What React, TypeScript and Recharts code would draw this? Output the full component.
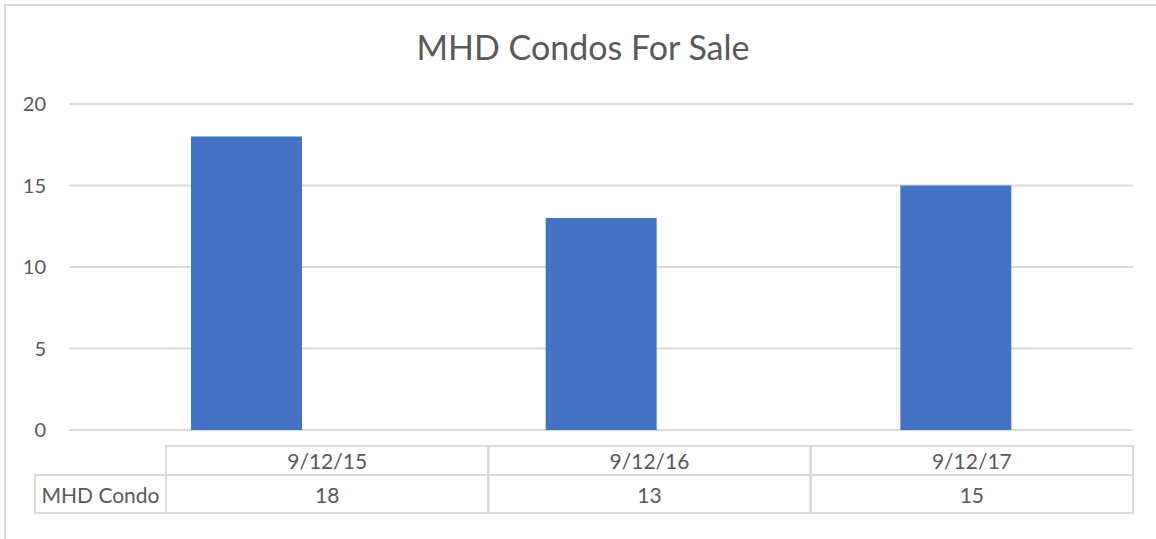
import React from 'react';
import { BarChart, Bar, XAxis, YAxis, CartesianGrid } from 'recharts';

const categories = ['9/12/15', '9/12/16', '9/12/17'];
const condoValues = [18, 13, 15];
const yTicks = [0, 5, 10, 15, 20];
const seriesName = 'MHD Condo';
const title = 'MHD Condos For Sale';

const data = categories.map((date, i) => ({ date, condo: condoValues[i] }));

const FONT = 'Lato, "Open Sans", sans-serif';
const TEXT = '#595959';
const LINE = '#d9d9d9';

// Excel-style data table: label column + one column per category
const TABLE_LEFT = 35;
const TABLE_COL0 = 166;
const TABLE_RIGHT = 1133;

const TableTick = (props: any) => {
  const { y, index, payload } = props;
  const colW = (TABLE_RIGHT - TABLE_COL0) / categories.length;
  const left = TABLE_COL0 + index * colW;
  const cx = left + colW / 2;
  const top = y + 16;
  const headH = 29;
  const rowH = 38;
  const fs = 21;
  return (
    <g>
      <rect x={left} y={top} width={colW} height={headH} fill="none" stroke={LINE} strokeWidth={2} />
      <rect x={left} y={top + headH} width={colW} height={rowH} fill="none" stroke={LINE} strokeWidth={2} />
      {index === 0 && (
        <g>
          <rect x={TABLE_LEFT} y={top + headH} width={left - TABLE_LEFT} height={rowH} fill="none" stroke={LINE} strokeWidth={2} />
          <text x={(TABLE_LEFT + left) / 2} y={top + headH + rowH / 2} textAnchor="middle" dominantBaseline="central" fill={TEXT} fontSize={fs} fontFamily={FONT}>
            {seriesName}
          </text>
        </g>
      )}
      <text x={cx} y={top + headH / 2} textAnchor="middle" dominantBaseline="central" fill={TEXT} fontSize={fs} fontFamily={FONT}>
        {payload.value}
      </text>
      <text x={cx} y={top + headH + rowH / 2} textAnchor="middle" dominantBaseline="central" fill={TEXT} fontSize={fs} fontFamily={FONT}>
        {condoValues[index]}
      </text>
    </g>
  );
};

export default function App() {
  return (
    <div style={{ position: 'absolute', left: 0, top: 0, width: 1156, height: 539, background: '#fff', overflow: 'hidden' }}>
      <div style={{ position: 'absolute', left: 4, top: 4, width: 1200, height: 600, borderLeft: `2px solid ${LINE}`, borderTop: `2px solid ${LINE}` }} />
      <div style={{ position: 'absolute', left: 5, width: 1156, top: 26, textAlign: 'center', fontFamily: FONT, fontSize: 34, color: TEXT, lineHeight: '42px' }}>
        {title}
      </div>
      <div style={{ position: 'absolute', left: 0, top: 0 }}>
        <BarChart width={1156} height={539} data={data} margin={{ top: 104, right: 23, bottom: 19, left: 19 }}>
          <CartesianGrid vertical={false} stroke={LINE} strokeWidth={2} />
          <YAxis
            domain={[0, 20]}
            ticks={yTicks}
            width={50}
            axisLine={false}
            tickLine={false}
            tickSize={0}
            tickMargin={23}
            tick={{ fill: TEXT, fontSize: 20, fontFamily: FONT }}
          />
          <XAxis dataKey="date" height={90} axisLine={false} tickLine={false} tickSize={0} tickMargin={0} tick={<TableTick />} interval={0} />
          <Bar dataKey="condo" fill="#4472c4" barSize={111} isAnimationActive={false} />
        </BarChart>
      </div>
    </div>
  );
}
